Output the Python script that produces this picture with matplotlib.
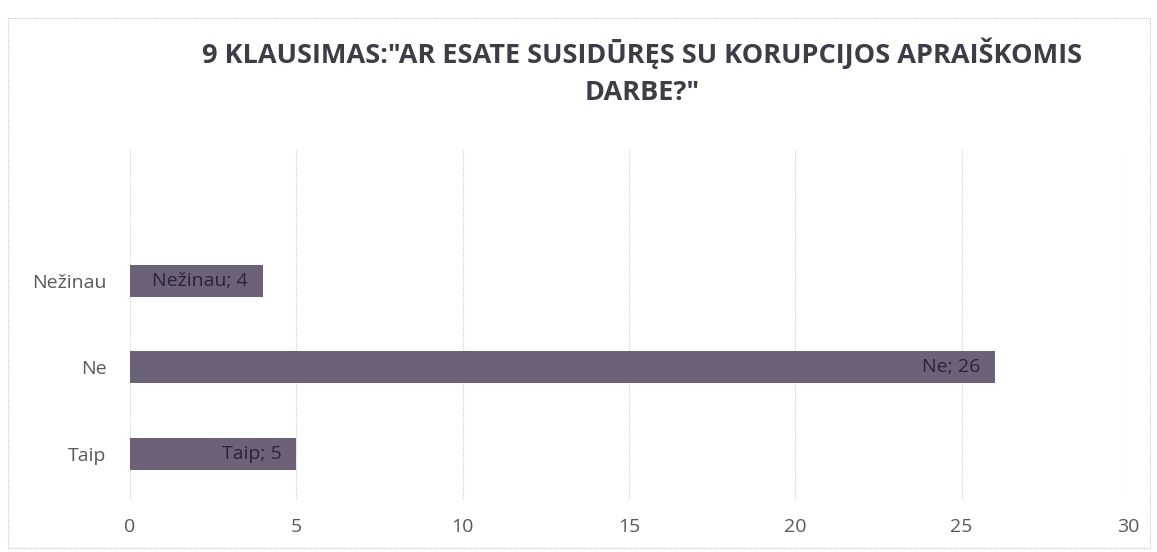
import numpy as np
import matplotlib
matplotlib.use("Agg")
import matplotlib.pyplot as plt
from matplotlib.patches import Rectangle

categories = ["Taip", "Ne", "Nežinau"]
values = [5, 26, 4]
x_ticks = [0, 5, 10, 15, 20, 25, 30]
title = '9 KLAUSIMAS:"AR ESATE SUSIDŪRĘS SU KORUPCIJOS APRAIŠKOMIS\nDARBE?"'

plt.rcParams["font.family"] = ["Open Sans", "DejaVu Sans"]

fig = plt.figure(figsize=(11.57, 5.52), dpi=100)
fig.patch.set_facecolor("white")
ax = fig.add_axes([130 / 1157, 1 - 500 / 552, (1128 - 130) / 1157, 350 / 552])

bar_color = "#6c6176"
y = np.arange(len(categories))
ax.barh(y, values, height=0.37, color=bar_color, zorder=3)

for yi, cat, v in zip(y, categories, values):
    ax.text(v - 0.45, yi, f"{cat}; {v}", ha="right", va="center",
            fontsize=14, color="#2a2530", zorder=4)

ax.set_xlim(0, 30)
ax.set_ylim(-0.53, 3.51)
ax.set_xticks(x_ticks)
ax.set_yticks(y)
ax.set_yticklabels(categories)
ax.tick_params(axis="both", length=0, labelsize=14, labelcolor="#595959")
ax.tick_params(axis="x", pad=13)
ax.tick_params(axis="y", pad=17)
ax.grid(axis="x", color="#d0d0d0", linestyle=(0, (1, 1)), linewidth=0.8, zorder=0)
for s in ax.spines.values():
    s.set_visible(False)

fig.text(0.555, 0.87, title, ha="center", va="center", fontsize=19.5,
         fontweight="bold", color="#3f3c48", linespacing=1.55)

fig.patches.append(Rectangle((8 / 1157, 4 / 552), 1142 / 1157, 530 / 552,
                             transform=fig.transFigure, fill=False,
                             edgecolor="#c8c8c8", linestyle=(0, (1, 1)),
                             linewidth=0.8))

fig.savefig("out.png", dpi=100)
